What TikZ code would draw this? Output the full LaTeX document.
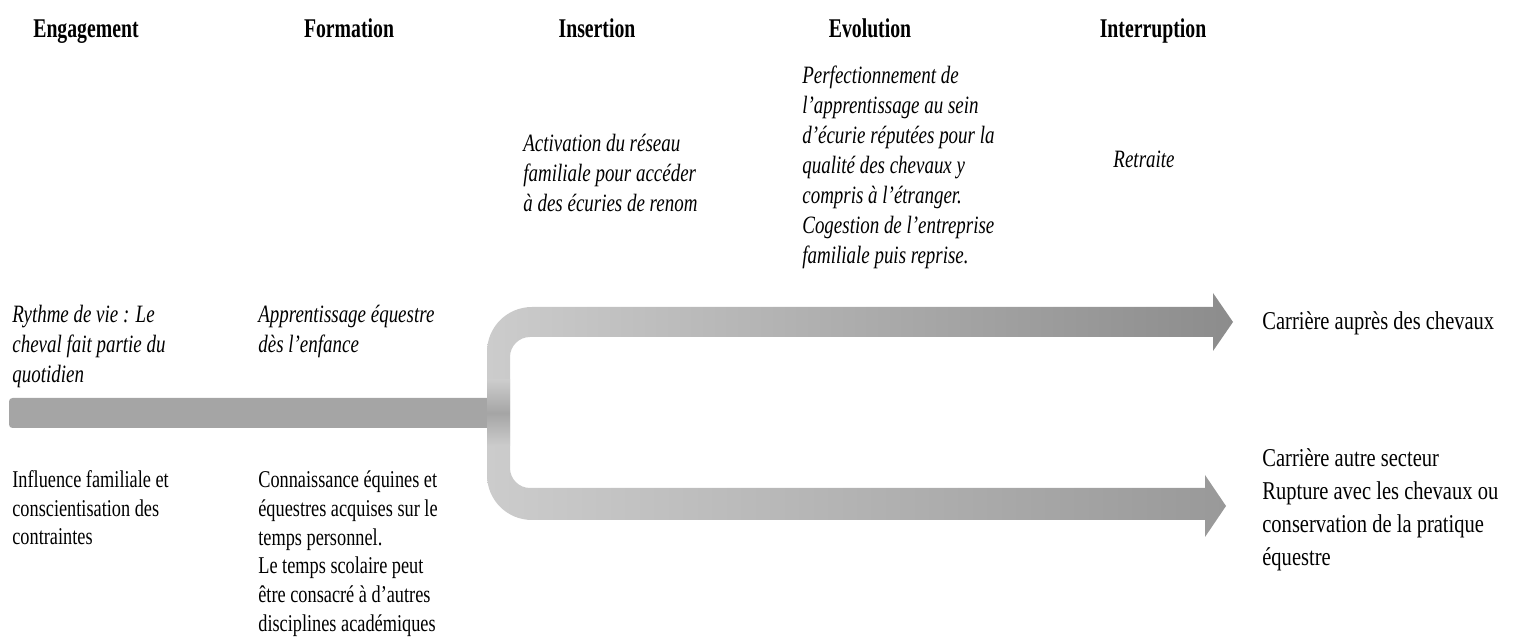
\documentclass[tikz,border=0pt]{standalone}
\usepackage{fontspec}
\setmainfont{Liberation Serif}
\newfontfamily\headfont[FakeStretch=0.73]{Liberation Serif}
\newfontfamily\notefont[FakeStretch=0.76]{Liberation Serif}
\newfontfamily\outfont[FakeStretch=0.8]{Liberation Serif}
\definecolor{barfill}{HTML}{A5A5A5}
\definecolor{armlight}{HTML}{CCCCCC}
\definecolor{armdarktop}{HTML}{8C8C8C}
\definecolor{armdarkbot}{HTML}{999999}
\begin{document}
\begin{tikzpicture}[
    x=0.02cm, y=-0.02cm,
    head/.style={anchor=base, inner sep=0pt, font=\headfont\bfseries\fontsize{15.4}{18}\selectfont},
    notei/.style={anchor=base west, inner sep=0pt, align=left, font=\notefont\itshape\fontsize{14.2}{17.1}\selectfont},
    noter/.style={anchor=base west, inner sep=0pt, align=left, font=\notefont\fontsize{13.7}{16.3}\selectfont},
    outtext/.style={anchor=base west, inner sep=0pt, align=left, font=\outfont\fontsize{14.6}{18.8}\selectfont}
    ]

    \useasboundingbox (0,0) rectangle (1514,644);

    \node[head] (eng) at (86,38) {Engagement};
    \node[head] (form) at (349,38) {Formation};
    \node[head] (ins) at (597,38) {Insertion};
    \node[head] (evo) at (870,38) {Evolution};
    \node[head] (intr) at (1153,38) {Interruption};

    \node[notei] (reseau) at (523,212) {Activation du réseau\\familiale pour accéder\\à des écuries de renom};
    \node[notei] (perf) at (802,264) {Perfectionnement de\\l’apprentissage au sein\\d’écurie réputées pour la\\qualité des chevaux y\\compris à l’étranger.\\Cogestion de l’entreprise\\familiale puis reprise.};
    \node[notei, anchor=base] (retr) at (1144,168) {Retraite};
    \node[notei] (rythme) at (12,383) {Rythme de vie : Le\\cheval fait partie du\\quotidien};
    \node[notei] (appr) at (258,353) {Apprentissage équestre\\dès l’enfance};

    \node[noter] (influ) at (12,545) {Influence familiale et\\conscientisation des\\contraintes};
    \node[noter] (conn) at (258,631) {Connaissance équines et\\équestres acquises sur le\\temps personnel.\\Le temps scolaire peut\\être consacré à d’autres\\disciplines académiques};

    \node[outtext] (carchev) at (1262,330) {Carrière auprès des chevaux};
    \node[outtext] (carautre) at (1262,566) {Carrière autre secteur\\Rupture avec les chevaux ou\\conservation de la pratique\\équestre};

    \coordinate (split) at (500,413);

    \fill[barfill, rounded corners=2] (9,398) rectangle (split |- 0,428);
    \shade[left color=armlight, right color=armdarktop]
        (487,413) -- (487,352) .. controls (487,327) and (507,307) .. (532,307)
        -- (1213,307) -- (1213,293) -- (1233,322) -- (1213,351) -- (1213,337)
        -- (530,337) .. controls (519,337) and (510,346) .. (510,357)
        -- (510,413) -- cycle;
    \shade[left color=armlight, right color=armdarkbot]
        (487,413) -- (487,475) .. controls (487,500) and (507,520) .. (532,520)
        -- (1205,520) -- (1205,537) -- (1226,506) -- (1205,475) -- (1205,488)
        -- (530,488) .. controls (519,488) and (510,479) .. (510,468)
        -- (510,413) -- cycle;
    \shade[top color=armlight, bottom color=armlight, middle color=barfill]
        (487,380) rectangle (510,446);

\end{tikzpicture}
\end{document}
